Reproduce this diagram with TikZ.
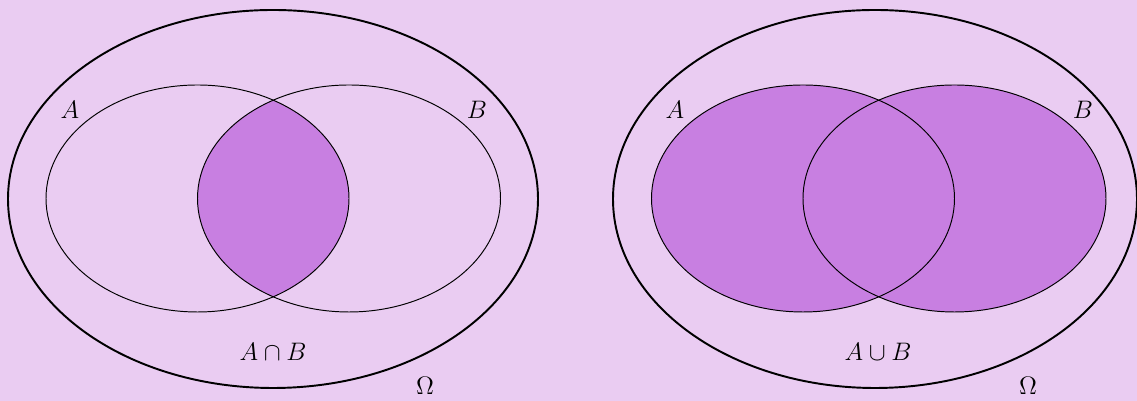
\documentclass[tikz,border=0pt]{standalone}
\usepackage{amsmath}
\usepackage{amssymb}
\usepackage{xcolor}
\usepackage{tikz}

\definecolor{fondo}{RGB}{234,204,242}
\definecolor{relleno}{RGB}{200,127,225}

\begin{document}
\begin{tikzpicture}[x=0.02cm, y=0.02cm,
    universo/.style={draw, line width=1.1pt},
    conjunto/.style={draw, line width=0.55pt},
    etiqueta/.style={font=\fontsize{15}{17}\selectfont}]
    % Fondo
    \fill[fondo] (0,0) rectangle (1137,401);
    \useasboundingbox (0,0) rectangle (1137,401);

    % Interseccion (izquierda)
    \coordinate (O1) at (273,202);
    \coordinate (A1) at (197.5,202.5);
    \coordinate (B1) at (349,202.5);
    \begin{scope}
        \clip (A1) ellipse [x radius=151.5, y radius=113.5];
        \fill[relleno] (B1) ellipse [x radius=151.5, y radius=113.5];
    \end{scope}
    \draw[universo] (O1) ellipse [x radius=265, y radius=189];
    \draw[conjunto] (A1) ellipse [x radius=151.5, y radius=113.5];
    \draw[conjunto] (B1) ellipse [x radius=151.5, y radius=113.5];
    \node[etiqueta] (lA1) at (70,291) {\(A\)};
    \node[etiqueta] (lB1) at (477,291) {\(B\)};
    \node[etiqueta] (lAB1) at (273,49) {\(A\cap B\)};
    \node[etiqueta, anchor=base, inner sep=0pt] (lO1) at (425,6) {\(\Omega\)};

    % Union (derecha)
    \coordinate (O2) at (875,202);
    \coordinate (A2) at (803,202.5);
    \coordinate (B2) at (954.5,202.5);
    \fill[relleno] (A2) ellipse [x radius=151.5, y radius=113.5];
    \fill[relleno] (B2) ellipse [x radius=151.5, y radius=113.5];
    \draw[universo] (O2) ellipse [x radius=262, y radius=189];
    \draw[conjunto] (A2) ellipse [x radius=151.5, y radius=113.5];
    \draw[conjunto] (B2) ellipse [x radius=151.5, y radius=113.5];
    \node[etiqueta] (lA2) at (675,291) {\(A\)};
    \node[etiqueta] (lB2) at (1083,291) {\(B\)};
    \node[etiqueta] (lAB2) at (878,49) {\(A\cup B\)};
    \node[etiqueta, anchor=base, inner sep=0pt] (lO2) at (1028,6) {\(\Omega\)};
\end{tikzpicture}
\end{document}
